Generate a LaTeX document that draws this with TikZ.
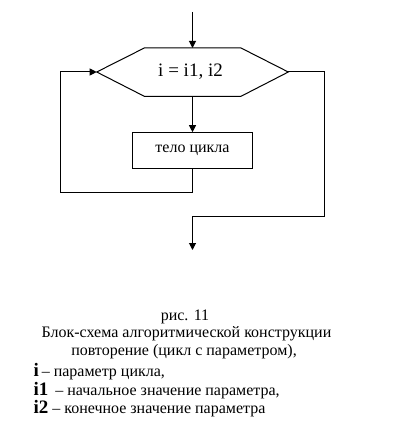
\documentclass[tikz,border=0pt]{standalone}
\usepackage{fontspec}
\setmainfont{Liberation Serif}
\usetikzlibrary{arrows.meta}
\begin{document}
\begin{tikzpicture}[x=1pt,y=-1pt,line width=1pt,
  >={Triangle[length=7pt,width=7pt]},
  flow/.style={draw=black,line width=1pt},
  capt/.style={inner sep=0pt,anchor=base,font=\fontsize{16}{18}\selectfont},
  captl/.style={inner sep=0pt,anchor=base west,font=\fontsize{16}{18}\selectfont}]
\useasboundingbox[fill=white] (0,0) rectangle (409,433);
% hexagon corners
\coordinate (hl) at (96.7,72);
\coordinate (hr) at (288.3,72);
\coordinate (htop) at (192.5,48);
\coordinate (hbot) at (192.5,96.3);
\draw[flow] (hl) -- (144.3,48) -- (241,48) -- (hr) -- (241,96.3) -- (144.3,96.3) -- cycle;
\node[inner sep=0pt] (cond) at (190.5,72) {\fontsize{19}{21}\selectfont i = i1, i2};
\node[flow, minimum width=120.4pt, minimum height=35.6pt, inner sep=0pt,
      font=\fontsize{16}{18}\selectfont] (body) at (192.5,150.5) {тело цикла};
\coordinate (start) at (192.5,12);
\coordinate (exit) at (192.5,250);
\coordinate (loopc) at (192.5,192.3);
\coordinate (loopl) at (60.7,72);
\coordinate (outr) at (324.3,72);
\coordinate (outb) at (192.5,216);
\draw[flow,->] (start) -- (htop);
\draw[flow,->] (hbot) -- (body.north);
\draw[flow,->] (body.south) -- (loopc) -| (loopl) -- (hl);
\draw[flow,->] (hr) -- (outr) |- (outb) -- (exit);
% caption
\node[capt] (c1) at (185,320.7) {рис. 11};
\node[capt] (c2) at (186.5,337.3) {Блок-схема алгоритмической конструкции};
\node[capt] (c3) at (184,355) {повторение (цикл с параметром),};
\node[captl] (c4) at (33,376) {{\fontsize{19}{21}\selectfont\bfseries i}\kern-1pt{} – параметр цикла,};
\node[captl] (c5) at (33,395) {{\fontsize{19}{21}\selectfont\bfseries i1}\kern3pt{} – начальное значение параметра,};
\node[captl] (c6) at (33,413.3) {{\fontsize{19}{21}\selectfont\bfseries i2} – конечное значение параметра};
\end{tikzpicture}
\end{document}
